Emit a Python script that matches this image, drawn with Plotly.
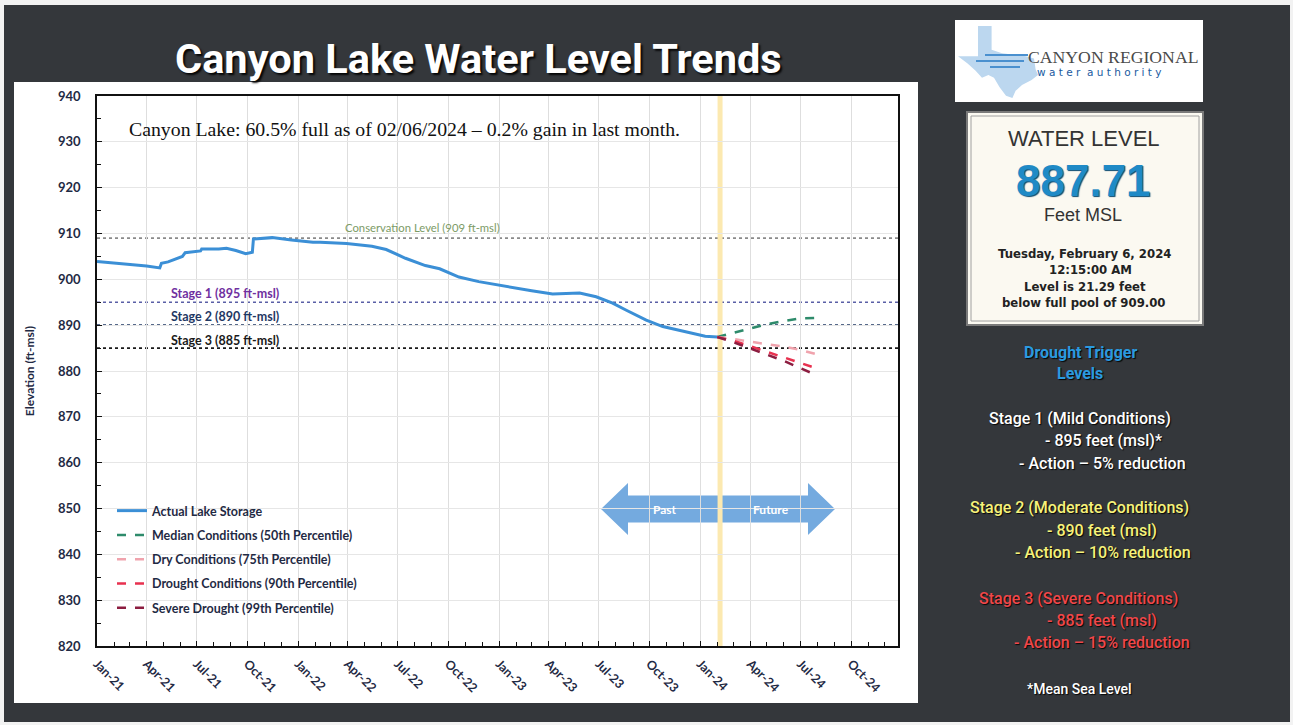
import plotly.graph_objects as go

# ---- data ----
actual_dates = [
    "2021-01-01", "2021-02-01", "2021-03-01", "2021-04-01", "2021-04-25", "2021-04-28",
    "2021-05-10", "2021-05-25", "2021-06-05", "2021-06-10", "2021-06-25", "2021-07-08",
    "2021-07-10", "2021-08-10", "2021-08-24", "2021-09-10", "2021-09-28", "2021-10-05",
    "2021-10-10", "2021-10-12", "2021-11-01", "2021-11-15", "2021-12-20", "2022-01-28",
    "2022-02-10", "2022-03-30", "2022-05-15", "2022-06-10", "2022-07-15", "2022-08-20",
    "2022-09-15", "2022-10-20", "2022-11-25", "2023-01-15", "2023-03-01", "2023-04-08",
    "2023-05-01", "2023-05-27", "2023-06-26", "2023-07-26", "2023-08-19", "2023-09-25",
    "2023-10-25", "2023-12-06", "2024-01-10", "2024-02-01",
]
actual_level = [
    903.9, 903.6, 903.3, 902.9, 902.5, 903.5,
    903.8, 904.4, 905.0, 905.8, 906.1, 906.2,
    906.6, 906.6, 906.8, 906.3, 905.6, 905.8,
    905.9, 908.8, 909.0, 909.1, 908.6, 908.1,
    908.1, 907.8, 907.2, 906.5, 904.6, 903.0,
    902.3, 900.5, 899.5, 898.4, 897.5, 896.8,
    896.9, 897.0, 896.2, 894.8, 893.3, 891.1,
    889.7, 888.5, 887.6, 887.4,
]

forecast_dates = ["2024-02-01", "2024-03-01", "2024-04-01", "2024-05-01",
                  "2024-06-01", "2024-07-01", "2024-08-01"]
median_level = [887.4, 888.3, 889.2, 890.2, 890.9, 891.5, 891.6]
dry_level = [887.4, 887.0, 886.4, 885.9, 885.3, 884.6, 883.6]
drought_level = [887.4, 886.6, 885.4, 884.2, 883.0, 881.8, 880.5]
severe_level = [887.4, 886.3, 884.9, 883.6, 882.2, 880.6, 879.0]

ref_levels = [909, 895, 890, 885]
ref_colors = ["#8a8a8a", "#5a5fa6", "#1f3864", "#1a1a1a"]
ref_labels = ["Conservation Level (909 ft-msl)", "Stage 1 (895 ft-msl)",
              "Stage 2 (890 ft-msl)", "Stage 3 (885 ft-msl)"]

tick_dates = ["2021-01-01", "2021-04-01", "2021-07-01", "2021-10-01",
              "2022-01-01", "2022-04-01", "2022-07-01", "2022-10-01",
              "2023-01-01", "2023-04-01", "2023-07-01", "2023-10-01",
              "2024-01-01", "2024-04-01", "2024-07-01", "2024-10-01"]
tick_text = ["Jan-21", "Apr-21", "Jul-21", "Oct-21", "Jan-22", "Apr-22", "Jul-22", "Oct-22",
             "Jan-23", "Apr-23", "Jul-23", "Oct-23", "Jan-24", "Apr-24", "Jul-24", "Oct-24"]

today = "2024-02-06"

# ---- pixel -> paper helpers (plot area 97..898 x 96..646) ----
L, R, T, B = 97, 898, 96, 646


def px(x):
    return (x - L) / (R - L)


def py(y):
    return (B - y) / (B - T)


CAL = "Lato, Open Sans, sans-serif"
ROB = "Roboto, sans-serif"
NAVY = "#1f2a44"

fig = go.Figure()

series = [
    ("Actual Lake Storage", actual_dates, actual_level, "#3b8fd6", "solid", 3),
    ("Median Conditions (50th Percentile)", forecast_dates, median_level, "#2e8b6b", "dash", 2.5),
    ("Dry Conditions (75th Percentile)", forecast_dates, dry_level, "#f0a3ad", "dash", 2.5),
    ("Drought Conditions (90th Percentile)", forecast_dates, drought_level, "#e8314f", "dash", 2.5),
    ("Severe Drought (99th Percentile)", forecast_dates, severe_level, "#8c1d40", "dash", 2.5),
]
for name, xs, ys, color, dash, width in series:
    fig.add_trace(go.Scatter(
        x=xs, y=ys, name=name, mode="lines", legendgroup=name,
        line=dict(color=color, dash=dash, width=width),
    ))

shapes = [
    # slide background
    dict(type="rect", xref="paper", yref="paper", x0=px(4), x1=px(1290), y0=py(5), y1=py(722),
         fillcolor="#34373b", line_width=0, layer="below"),
    # white chart panel
    dict(type="rect", xref="paper", yref="paper", x0=px(14), x1=px(918), y0=py(82), y1=py(703),
         fillcolor="white", line_width=0, layer="below"),
    # logo box
    dict(type="rect", xref="paper", yref="paper", x0=px(955), x1=px(1203), y0=py(20), y1=py(102),
         fillcolor="white", line_width=0, layer="below"),
    # water level box
    dict(type="rect", xref="paper", yref="paper", x0=px(967), x1=px(1203), y0=py(112), y1=py(325),
         fillcolor="#fbf9f1", line=dict(color="#7a7a7a", width=2), layer="below"),
    dict(type="rect", xref="paper", yref="paper", x0=px(971), x1=px(1199), y0=py(116), y1=py(321),
         line=dict(color="#a0a0a0", width=1), layer="below"),
]

# rough Texas outline for the logo
texas = [(0.25, 0), (0.42, 0), (0.42, 0.33), (0.55, 0.38), (0.7, 0.4), (0.85, 0.42), (0.95, 0.45),
         (0.97, 0.6), (1.0, 0.68), (0.92, 0.75), (0.8, 0.82), (0.72, 0.9), (0.68, 1.0), (0.6, 0.97),
         (0.52, 0.85), (0.45, 0.72), (0.38, 0.68), (0.3, 0.72), (0.22, 0.62), (0.12, 0.52),
         (0.0, 0.42), (0.25, 0.42)]
tx0, ty0, tw, th = 958, 26, 80, 72
path = "M" + " L".join(f"{px(tx0 + a * tw):.5f},{py(ty0 + b * th):.5f}" for a, b in texas) + " Z"
shapes.append(dict(type="path", xref="paper", yref="paper", path=path,
                   fillcolor="#bcd7ef", line_width=0, layer="below"))
for sy, sx0, sx1 in [(55, 985, 1028), (61, 976, 1024), (67, 990, 1020)]:
    shapes.append(dict(type="line", xref="paper", yref="paper", x0=px(sx0), x1=px(sx1),
                       y0=py(sy), y1=py(sy), line=dict(color="#4a90cf", width=2), layer="below"))

# past / future arrow
arrow = [(601, 509), (628, 483), (628, 495.5), (808, 495.5), (808, 483), (835, 509),
         (808, 535), (808, 522.5), (628, 522.5), (628, 535)]
path = "M" + " L".join(f"{px(a):.5f},{py(b):.5f}" for a, b in arrow) + " Z"
shapes.append(dict(type="path", xref="paper", yref="paper", path=path,
                   fillcolor="#74aadf", line_width=0, layer="below"))

# reference levels
for lvl, col in zip(ref_levels, ref_colors):
    shapes.append(dict(type="line", xref="paper", yref="y", x0=0, x1=1, y0=lvl, y1=lvl,
                       line=dict(color=col, width=1.6, dash="dot"), layer="below"))

# today marker
shapes.append(dict(type="line", xref="x", yref="paper", x0=today, x1=today, y0=0, y1=1,
                   line=dict(color="#fce9b0", width=5), layer="below"))

ann = []


def text(x, y, s, size, color, family=ROB, anchor="left", weight="normal", shadow="none"):
    ann.append(dict(x=px(x), y=py(y), xref="paper", yref="paper", text=s, showarrow=False,
                    xanchor=anchor, yanchor="middle",
                    font=dict(family=family, size=size, color=color, weight=weight, shadow=shadow)))


text(478, 58, "Canyon Lake Water Level Trends", 41.5, "white", anchor="center", weight="bold",
     shadow="2px 2px 2px rgba(0,0,0,0.9)")
text(127, 129, "Canyon Lake: 60.5% full as of 02/06/2024 – 0.2% gain in last month.", 19.8,
     "#111", family="Liberation Serif, Times New Roman, serif")
text(422, 227, ref_labels[0], 11.3, "#7c9b66", family=CAL, anchor="center")
text(169, 293, ref_labels[1], 12.5, "#7030a0", family=CAL, weight="bold")
text(169, 316, ref_labels[2], 12.5, "#1f3864", family=CAL, weight="bold")
text(169, 340, ref_labels[3], 12.5, "#1a1a1a", family=CAL, weight="bold")
text(665, 509, "Past", 12, "white", family=CAL, anchor="center", weight="bold")
text(771, 509, "Future", 12, "white", family=CAL, anchor="center", weight="bold")

# logo + water level box
text(1026, 57, "CANYON REGIONAL", 17.7, "#4a4a4a", family="Liberation Serif, serif")
text(1035, 72, "w a t e r  a u t h o r i t y", 10.5, "#1a5aa0", family="DejaVu Sans, sans-serif")
text(1084, 139, "WATER LEVEL", 22, "#333333", family="Liberation Sans, Arial, sans-serif", anchor="center")
text(1083, 180, "887.71", 44, "#1f8ac6", family="Liberation Sans, Arial, sans-serif", anchor="center",
     weight="bold", shadow="1px 1px 1px #0b4a70")
text(1083, 215, "Feet MSL", 18, "#333333", family="Liberation Sans, Arial, sans-serif", anchor="center")
for yy, s, cx in [(254, "Tuesday, February 6, 2024", 1084), (270, "12:15:00 AM", 1090),
                  (287, "Level is 21.29 feet", 1085), (303, "below full pool of 909.00", 1083)]:
    text(cx, yy, s, 11.7, "#222222", family="DejaVu Sans, Verdana, sans-serif", anchor="center",
         weight="bold")

# drought trigger panel
SH = "1px 1px 1px rgba(0,0,0,0.9)"
text(1080, 352, "Drought Trigger", 16, "#2a9ae0", anchor="center", weight="bold", shadow=SH)
text(1080, 373, "Levels", 16, "#2a9ae0", anchor="center", weight="bold", shadow=SH)
panel = [
    (987, 418, "Stage 1 (Mild Conditions)", "#ffffff"),
    (1043, 441, "- 895 feet (msl)*", "#ffffff"),
    (1017, 463, "- Action – 5% reduction", "#ffffff"),
    (968, 508, "Stage 2 (Moderate Conditions)", "#f6f27a"),
    (1045, 530, "- 890 feet (msl)", "#f6f27a"),
    (1013, 552, "- Action – 10% reduction", "#f6f27a"),
    (977, 598, "Stage 3 (Severe Conditions)", "#f0474a"),
    (1045, 620, "- 885 feet (msl)", "#f0474a"),
    (1012, 642, "- Action – 15% reduction", "#f0474a"),
]
for x, y, s, c in panel:
    text(x, y, s, 16, c, weight=500, shadow=SH)
text(1025, 689, "*Mean Sea Level", 14, "#ffffff", weight=500, shadow=SH)

fig.update_layout(
    width=1293,
    height=725,
    margin=dict(l=L, r=1293 - R, t=T, b=725 - B),
    paper_bgcolor="#f2f2f2",
    plot_bgcolor="rgba(0,0,0,0)",
    shapes=shapes,
    annotations=ann,
    showlegend=True,
    legend=dict(
        x=px(112), y=py(496), xanchor="left", yanchor="top",
        bgcolor="rgba(0,0,0,0)", tracegroupgap=5, itemwidth=30,
        font=dict(family=CAL, size=12.5, color=NAVY, weight="bold"),
    ),
)
fig.update_xaxes(
    type="date",
    range=["2021-01-01", "2024-12-25"],
    tickvals=tick_dates,
    ticktext=tick_text,
    tickangle=45,
    ticks="inside", ticklen=5, tickcolor="#111",
    minor=dict(dtick="M1", tick0="2021-01-01", ticks="inside", ticklen=4, tickcolor="#111",
               showgrid=False),
    showline=True, linecolor="#111", linewidth=1.5, mirror=True,
    showgrid=True, gridcolor="#dedede", gridwidth=1,
    zeroline=False,
    ticklabelstandoff=4,
    tickfont=dict(family=CAL, size=12.5, color=NAVY, weight="bold"),
)
fig.update_yaxes(
    range=[820, 940],
    tick0=820, dtick=10,
    ticks="inside", ticklen=5, tickcolor="#111",
    minor=dict(dtick=5, ticks="inside", ticklen=4, tickcolor="#111", showgrid=False),
    showline=True, linecolor="#111", linewidth=1.5, mirror=True,
    showgrid=True, gridcolor="#e6e6e6",
    zeroline=False,
    ticklabelstandoff=12,
    tickfont=dict(family=CAL, size=13, color=NAVY, weight="bold"),
    title=dict(text="Elevation (ft-msl)", standoff=21,
               font=dict(family=CAL, size=12, color=NAVY, weight="bold")),
)

# drop the default 8px body margin so the figure sits at the page origin
fig.write_html("out.html", config={"displayModeBar": False},
               post_script="document.body.style.margin='0';")
